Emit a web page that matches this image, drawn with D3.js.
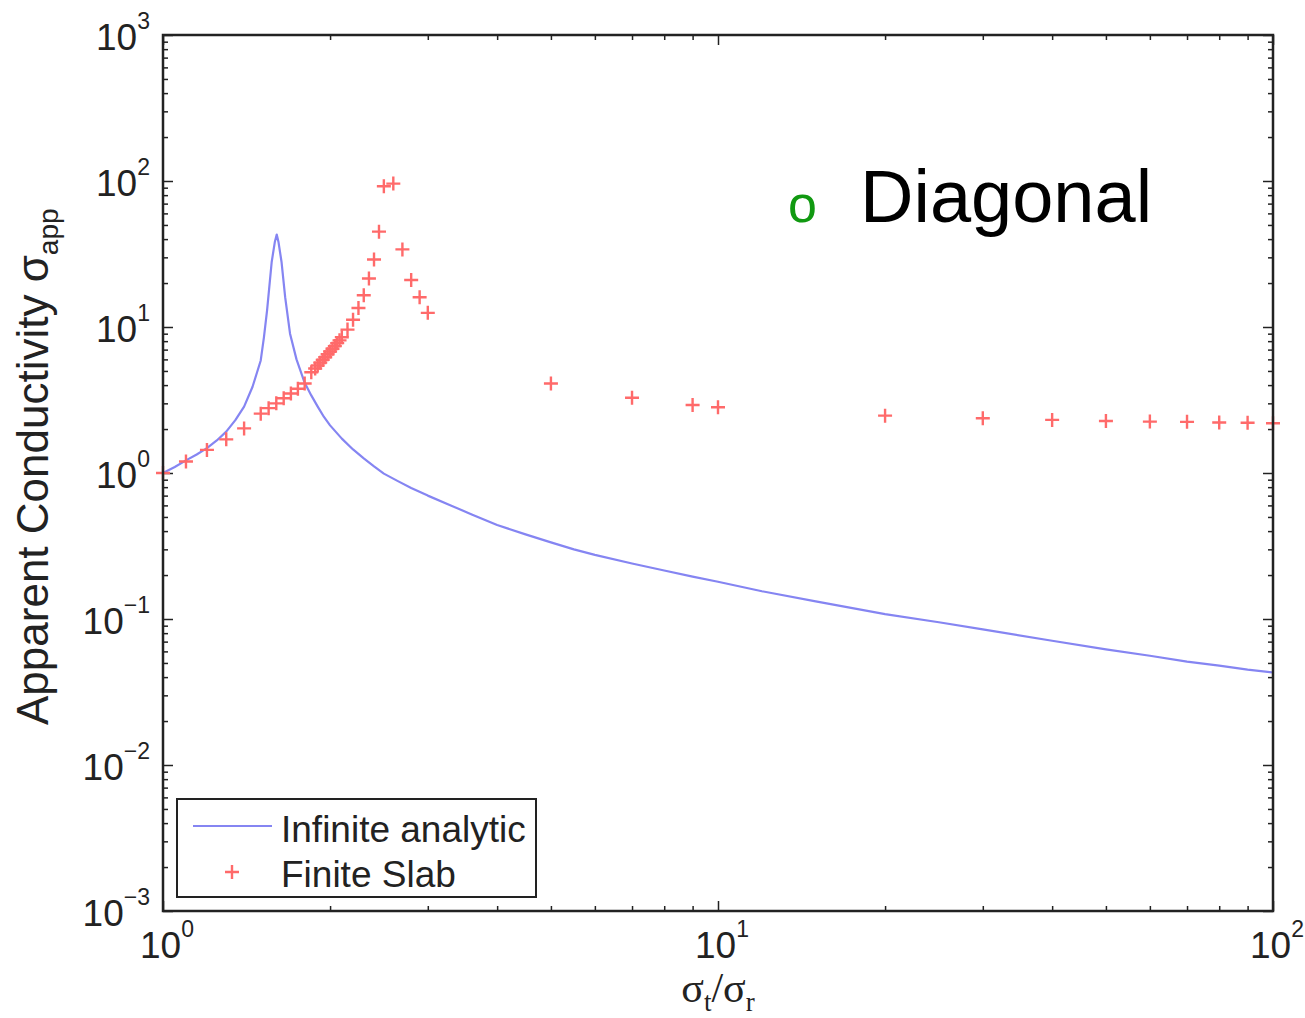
<!DOCTYPE html>
<html>
<head>
<meta charset="utf-8">
<script src="https://cdn.jsdelivr.net/npm/d3@7"></script>
<style>
  body { margin: 0; background: #fff; }
  text { font-family: "Liberation Sans", Arial, Helvetica, sans-serif; }
</style>
</head>
<body>
<div id="chart"></div>
<script>
// Infinite analytic (blue line)
var analyticX = [1, 1.05, 1.1, 1.15, 1.2, 1.25, 1.3, 1.35, 1.4, 1.45, 1.5, 1.52, 1.54, 1.57, 1.59, 1.603,
  1.615, 1.635, 1.66, 1.694, 1.74, 1.8, 1.85, 1.9, 1.95, 2, 2.1, 2.2, 2.3, 2.4, 2.5, 2.65, 2.8,
  3, 3.3, 3.6, 4, 4.5, 5, 5.5, 6, 7, 8, 9, 10, 12, 15, 20, 25, 30, 40, 50, 60, 70, 80, 90, 100];
var analyticY = [1, 1.1, 1.22, 1.34, 1.48, 1.67, 1.92, 2.3, 2.85, 3.9, 5.9, 8.5, 13, 28, 38, 43,
  38, 28, 16, 9, 6, 4.15, 3.4, 2.85, 2.42, 2.12, 1.72, 1.45, 1.26, 1.11, 0.99, 0.88, 0.79,
  0.7, 0.6, 0.52, 0.44, 0.38, 0.335, 0.3, 0.275, 0.24, 0.215, 0.195, 0.18, 0.155, 0.132, 0.108, 0.095,
  0.085, 0.071, 0.062, 0.056, 0.051, 0.048, 0.045, 0.043];

// Finite slab (red plus markers)
var slabX = [1, 1.1, 1.2, 1.3, 1.4, 1.5, 1.55, 1.6, 1.65, 1.7, 1.75, 1.8,
  1.85, 1.88, 1.9, 1.92, 1.94, 1.96, 1.98, 2, 2.02, 2.04, 2.06, 2.08, 2.1, 2.15, 2.2,
  2.25, 2.3, 2.35, 2.4, 2.45, 2.5, 2.6, 2.7, 2.8, 2.9, 3,
  5, 7, 9, 10, 20, 30, 40, 50, 60, 70, 80, 90, 100];
var slabY = [1, 1.2, 1.44, 1.7, 2.02, 2.55, 2.78, 3.0, 3.25, 3.5, 3.78, 4.1,
  4.9, 5.2, 5.45, 5.7, 5.95, 6.2, 6.5, 6.8, 7.1, 7.4, 7.75, 8.1, 8.5, 9.6, 11.2,
  13.5, 16.5, 21.5, 29, 45, 92, 96, 34, 21, 16, 12.5,
  4.1, 3.28, 2.92, 2.82, 2.47, 2.37, 2.31, 2.27, 2.25, 2.24, 2.22, 2.21, 2.19];

var xExponents = [0, 1, 2];
var yExponents = [-3, -2, -1, 0, 1, 2, 3];
var legendLabels = ["Infinite analytic", "Finite Slab"];

var W = 1305, H = 1018;
var pLeft = 163, pRight = 1273, pTop = 35, pBottom = 911;

var svg = d3.select("#chart").append("svg")
  .attr("width", W).attr("height", H);

var x = d3.scaleLog().domain([1, 100]).range([pLeft, pRight]);
var y = d3.scaleLog().domain([1e-3, 1e3]).range([pBottom, pTop]);

var blue = "#8585f2";
var red = "#ff6a6a";

// ticks, inward on all four sides
var xMajor = xExponents.map(function(e){ return Math.pow(10, e); });
var yMajor = yExponents.map(function(e){ return Math.pow(10, e); });
function notMajor(majors) {
  return function(v){
    return majors.every(function(m){ return Math.abs(m - v) / m > 1e-9; });
  };
}
var xMinor = x.ticks().filter(notMajor(xMajor));
var yMinor = y.ticks().filter(notMajor(yMajor));

function addAxis(axis, tx, ty) {
  var g = svg.append("g")
    .attr("transform", "translate(" + tx + "," + ty + ")")
    .call(axis);
  g.select(".domain").remove();
  g.selectAll("line").attr("stroke", "#222").attr("stroke-width", 1.5);
}

[[xMinor, 5], [xMajor, 10]].forEach(function(t){
  addAxis(d3.axisBottom(x).tickValues(t[0]).tickSize(-t[1]).tickFormat(""), 0, pBottom);
  addAxis(d3.axisTop(x).tickValues(t[0]).tickSize(-t[1]).tickFormat(""), 0, pTop);
});
[[yMinor, 5], [yMajor, 10]].forEach(function(t){
  addAxis(d3.axisLeft(y).tickValues(t[0]).tickSize(-t[1]).tickFormat(""), pLeft, 0);
  addAxis(d3.axisRight(y).tickValues(t[0]).tickSize(-t[1]).tickFormat(""), pRight, 0);
});

// blue analytic line
var line = d3.line()
  .x(function(d){ return x(d[0]); })
  .y(function(d){ return y(d[1]); });

svg.append("path")
  .datum(analyticX.map(function(v, i){ return [v, analyticY[i]]; }))
  .attr("fill", "none")
  .attr("stroke", blue)
  .attr("stroke-width", 2.2)
  .attr("stroke-linejoin", "round")
  .attr("d", line);

// red plus markers
var plus = "M-7,0H7M0,-7V7";
svg.append("g").selectAll("path")
  .data(slabX.map(function(v, i){ return [v, slabY[i]]; }))
  .enter().append("path")
  .attr("d", plus)
  .attr("transform", function(d){ return "translate(" + x(d[0]) + "," + y(d[1]) + ")"; })
  .attr("fill", "none")
  .attr("stroke", red)
  .attr("stroke-width", 2.4);

// frame
svg.append("rect")
  .attr("x", pLeft).attr("y", pTop)
  .attr("width", pRight - pLeft).attr("height", pBottom - pTop)
  .attr("fill", "none").attr("stroke", "#222").attr("stroke-width", 2.5);

// tick labels as 10^n
function powLabel(g, e) {
  g.append("tspan").attr("font-size", 37).text("10");
  g.append("tspan").attr("font-size", 23).attr("dy", -21).text(e < 0 ? "\u2212" + (-e) : e);
}

xExponents.forEach(function(e){
  var t = svg.append("text")
    .attr("x", x(Math.pow(10, e)) + 4)
    .attr("y", 958)
    .attr("text-anchor", "middle")
    .attr("fill", "#222");
  powLabel(t, e);
});

yExponents.forEach(function(e){
  var t = svg.append("text")
    .attr("x", 150)
    .attr("y", y(Math.pow(10, e)) + 15)
    .attr("text-anchor", "end")
    .attr("fill", "#222");
  powLabel(t, e);
});

// axis titles
var ylab = svg.append("text")
  .attr("transform", "translate(48," + 725 + ") rotate(-90)")
  .attr("font-size", 44)
  .attr("fill", "#222");
ylab.append("tspan").text("Apparent Conductivity \u03c3");
ylab.append("tspan").attr("font-size", 28).attr("dy", 10).text("app");

var xlab = svg.append("text")
  .attr("x", 718).attr("y", 1002)
  .attr("text-anchor", "middle")
  .attr("font-size", 42)
  .attr("fill", "#222")
  .style("font-family", "'Liberation Serif', 'Times New Roman', serif");
xlab.append("tspan").text("\u03c3");
xlab.append("tspan").attr("font-size", 27).attr("dy", 9).text("t");
xlab.append("tspan").attr("dy", -9).text("/\u03c3");
xlab.append("tspan").attr("font-size", 27).attr("dy", 9).text("r");

// legend
var lg = svg.append("g");
lg.append("rect")
  .attr("x", 177).attr("y", 799)
  .attr("width", 359).attr("height", 98)
  .attr("fill", "#fff").attr("stroke", "#222").attr("stroke-width", 2);
lg.append("line")
  .attr("x1", 193).attr("x2", 272).attr("y1", 826).attr("y2", 826)
  .attr("stroke", blue).attr("stroke-width", 2.2);
lg.append("path")
  .attr("d", plus)
  .attr("transform", "translate(232,872)")
  .attr("fill", "none").attr("stroke", red).attr("stroke-width", 2.4);
lg.selectAll("text.leg")
  .data(legendLabels)
  .enter().append("text")
  .attr("class", "leg")
  .attr("x", 281)
  .attr("y", function(d, i){ return 842 + i * 45; })
  .attr("font-size", 37)
  .attr("fill", "#222")
  .text(function(d){ return d; });

// annotation
svg.append("text")
  .attr("x", 788).attr("y", 222)
  .attr("font-size", 52)
  .attr("fill", "#119911")
  .text("o");
svg.append("text")
  .attr("x", 860).attr("y", 222)
  .attr("font-size", 74)
  .attr("fill", "#000")
  .text("Diagonal");
</script>
</body>
</html>
